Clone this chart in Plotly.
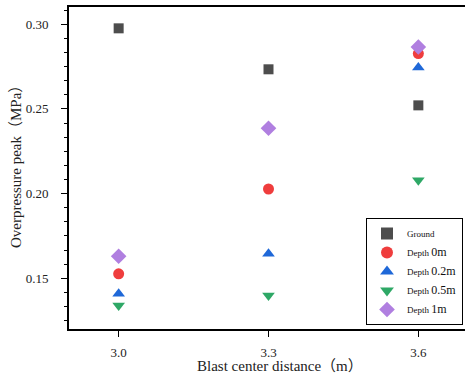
import plotly.graph_objects as go

distance = [3.0, 3.3, 3.6]
ground = [0.2976, 0.2734, 0.2521]
depth_0m = [0.1526, 0.2027, 0.2827]
depth_02m = [0.1408, 0.1644, 0.2744]
depth_05m = [0.1339, 0.1398, 0.2078]
depth_1m = [0.1630, 0.2386, 0.2866]

x_ticks = [3.0, 3.3, 3.6]
x_tick_labels = ["3.0", "3.3", "3.6"]
y_ticks = [0.15, 0.20, 0.25, 0.30]
y_tick_labels = ["0.15", "0.20", "0.25", "0.30"]

FONT = "Liberation Serif, Times New Roman, Noto Sans CJK SC, serif"

W, H = 465, 375
L, R, T, B = 69, 0, 7, 46
PW, PH = W - L - R, H - T - B

series = [
    ("Ground", ground, "square", "#4d4d4d", 10),
    ("Depth <span style='font-size:12px'>0m</span>", depth_0m, "circle", "#ef3d3d", 11),
    ("Depth <span style='font-size:12px'>0.2m</span>", depth_02m, "triangle-up", "#1f68d8", 11),
    ("Depth <span style='font-size:12px'>0.5m</span>", depth_05m, "triangle-down", "#2ea866", 11),
    ("Depth <span style='font-size:12px'>1m</span>", depth_1m, "diamond", "#b07fe0", 12),
]

fig = go.Figure()
for name, vals, sym, col, sz in series:
    fig.add_trace(go.Scatter(
        x=distance, y=vals, mode="markers", name=name,
        marker=dict(symbol=sym, color=col, size=sz, line=dict(width=0)),
    ))


def px_x(px):
    return (px - L) / PW


def px_y(py):
    return (H - B - py) / PH


fig.update_layout(
    width=W, height=H,
    margin=dict(l=L, r=R, t=T, b=B, autoexpand=False),
    paper_bgcolor="white", plot_bgcolor="white",
    font=dict(family=FONT, size=13, color="#222"),
    showlegend=True,
    legend=dict(
        x=px_x(463), y=px_y(325), xanchor="right", yanchor="bottom",
        bordercolor="black", borderwidth=1, bgcolor="white",
        font=dict(family=FONT, size=9, color="#111"),
        itemsizing="constant", tracegroupgap=0, itemwidth=30,
    ),
    annotations=[
        dict(text="Blast center distance（m）", x=px_x(280), y=px_y(366),
             xref="paper", yref="paper", xanchor="center", yanchor="middle",
             showarrow=False, font=dict(family=FONT, size=15, color="#222")),
        dict(text="Overpressure peak（MPa）", x=px_x(16), y=px_y(163),
             xref="paper", yref="paper", xanchor="center", yanchor="middle",
             textangle=-90, showarrow=False,
             font=dict(family=FONT, size=15, color="#222")),
    ],
)

fig.update_xaxes(
    range=[2.9006, 3.6934], automargin=False,
    tickvals=x_ticks, ticktext=x_tick_labels,
    ticks="outside", ticklen=6, tickwidth=1.2, tickcolor="black",
    showline=True, linecolor="black", linewidth=1.8, mirror=True,
    showgrid=False, zeroline=False,
    ticklabelstandoff=4,
    tickfont=dict(family=FONT, size=13, color="#222"),
)
fig.update_yaxes(
    range=[0.12, 0.3102], automargin=False,
    tickvals=y_ticks, ticktext=y_tick_labels,
    ticks="outside", ticklen=6, tickwidth=1.2, tickcolor="black",
    minor=dict(dtick=0.05 / 6, tick0=0, ticks="outside", ticklen=3, tickcolor="black", tickwidth=1.2),
    showline=True, linecolor="black", linewidth=1.8, mirror=False,
    showgrid=False, zeroline=False,
    ticklabelstandoff=10,
    tickfont=dict(family=FONT, size=13, color="#222"),
)

fig.write_html(
    "out.html",
    config={"displayModeBar": False},
    post_script="document.body.style.margin='0';document.body.style.overflow='hidden';",
)
